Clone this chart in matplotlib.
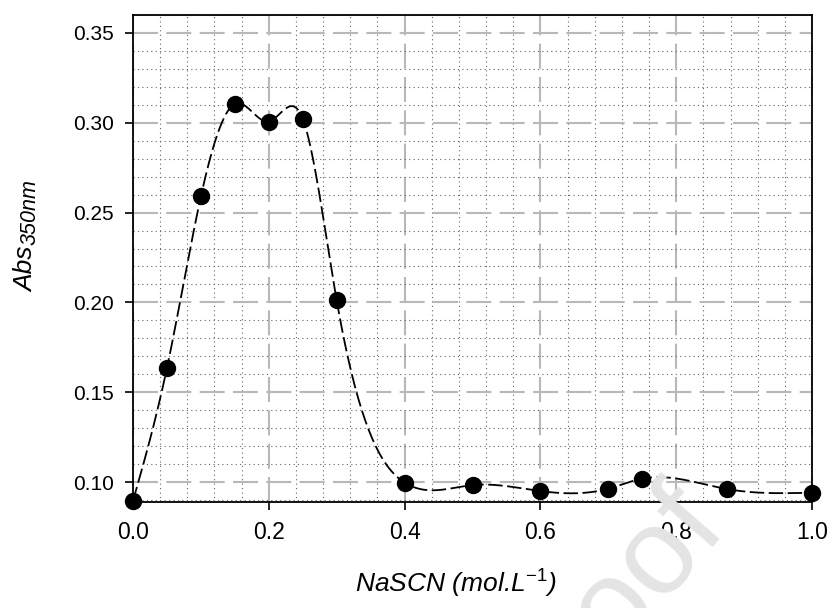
import numpy as np
import matplotlib
matplotlib.use("Agg")
import matplotlib.pyplot as plt
from matplotlib.ticker import MultipleLocator

# NaSCN concentration (mol/L) and absorbance at 350 nm
conc = [0.0, 0.05, 0.10, 0.15, 0.20, 0.25, 0.30, 0.40, 0.50, 0.60, 0.70, 0.75, 0.875, 1.0]
absorb = [0.0895, 0.1635, 0.259, 0.3105, 0.3007, 0.3022, 0.2011, 0.0997, 0.0983,
          0.0950, 0.0963, 0.1019, 0.0961, 0.0941]

x_ticks = [0.0, 0.2, 0.4, 0.6, 0.8, 1.0]
y_ticks = [0.10, 0.15, 0.20, 0.25, 0.30, 0.35]

W, H = 834, 608


def natural_spline(x, y, n=600):
    x = np.asarray(x, float)
    y = np.asarray(y, float)
    m = len(x)
    h = np.diff(x)
    A = np.zeros((m, m))
    r = np.zeros(m)
    A[0, 0] = A[-1, -1] = 1.0
    for i in range(1, m - 1):
        A[i, i - 1] = h[i - 1]
        A[i, i] = 2 * (h[i - 1] + h[i])
        A[i, i + 1] = h[i]
        r[i] = 3 * ((y[i + 1] - y[i]) / h[i] - (y[i] - y[i - 1]) / h[i - 1])
    c = np.linalg.solve(A, r)
    b = (np.diff(y) / h) - h * (2 * c[:-1] + c[1:]) / 3
    d = np.diff(c) / (3 * h)
    xs = np.linspace(x[0], x[-1], n)
    k = np.clip(np.searchsorted(x, xs) - 1, 0, m - 2)
    t = xs - x[k]
    ys = y[k] + b[k] * t + c[k] * t ** 2 + d[k] * t ** 3
    return xs, ys


plt.rcParams['font.family'] = ['Liberation Sans', 'DejaVu Sans']
plt.rcParams['mathtext.fontset'] = 'custom'
plt.rcParams['mathtext.rm'] = 'Liberation Sans'
plt.rcParams['mathtext.it'] = 'Liberation Sans:italic'
plt.rcParams['mathtext.default'] = 'it'

fig = plt.figure(figsize=(W / 100, H / 100), dpi=100)
ax = fig.add_axes([133 / W, 1 - 502 / H, 679 / W, 487 / H])

xs, ys = natural_spline(conc, absorb)
ax.plot(xs, ys, color='black', lw=1.3, dashes=(8, 2.5), zorder=3)
ax.plot(conc, absorb, 'o', color='black', ms=11.5, zorder=4, clip_on=False)

ax.set_xlim(0, 1.0)
ax.set_ylim(0.0889, 0.360)
ax.set_xticks(x_ticks)
ax.set_yticks(y_ticks)
ax.set_xticklabels(['%.1f' % v for v in x_ticks], fontsize=16.5)
ax.set_yticklabels(['%.2f' % v for v in y_ticks], fontsize=15)
ax.xaxis.set_minor_locator(MultipleLocator(0.04))
ax.yaxis.set_minor_locator(MultipleLocator(0.01))

ax.grid(which='minor', color='#666666', lw=0.8, linestyle=(0, (1, 3)), zorder=1)
ax.grid(which='major', color='#b8b8b8', lw=1.5, linestyle=(0, (12, 4)), zorder=2)
ax.set_axisbelow(True)

ax.tick_params(which='major', direction='out', length=6, width=1.2,
               top=False, right=False)
ax.tick_params(axis='y', pad=8)
ax.tick_params(axis='x', pad=8)
ax.tick_params(which='minor', length=0)
for s in ax.spines.values():
    s.set_linewidth(1.3)

# axis titles
fig.text(456 / W, 1 - 593 / H, 'NaSCN (mol.L$^{-1}$)', fontsize=19, style='italic',
         ha='center', va='baseline')
fig.text(33 / W, 1 - 292 / H, 'Abs', fontsize=19, style='italic', rotation=90,
         rotation_mode='anchor', ha='left', va='baseline')
fig.text(35 / W, 1 - 245 / H, '350nm', fontsize=15.5, style='italic', rotation=90,
         rotation_mode='anchor', ha='left', va='baseline')

# faint watermark across the lower right corner
fig.text(0.874, 0.128, 'Journal Pre-proof', fontsize=88, color='#e4e4e4',
         rotation=49, rotation_mode='anchor', ha='right', va='baseline', zorder=10)

fig.savefig('out.png', dpi=100)
